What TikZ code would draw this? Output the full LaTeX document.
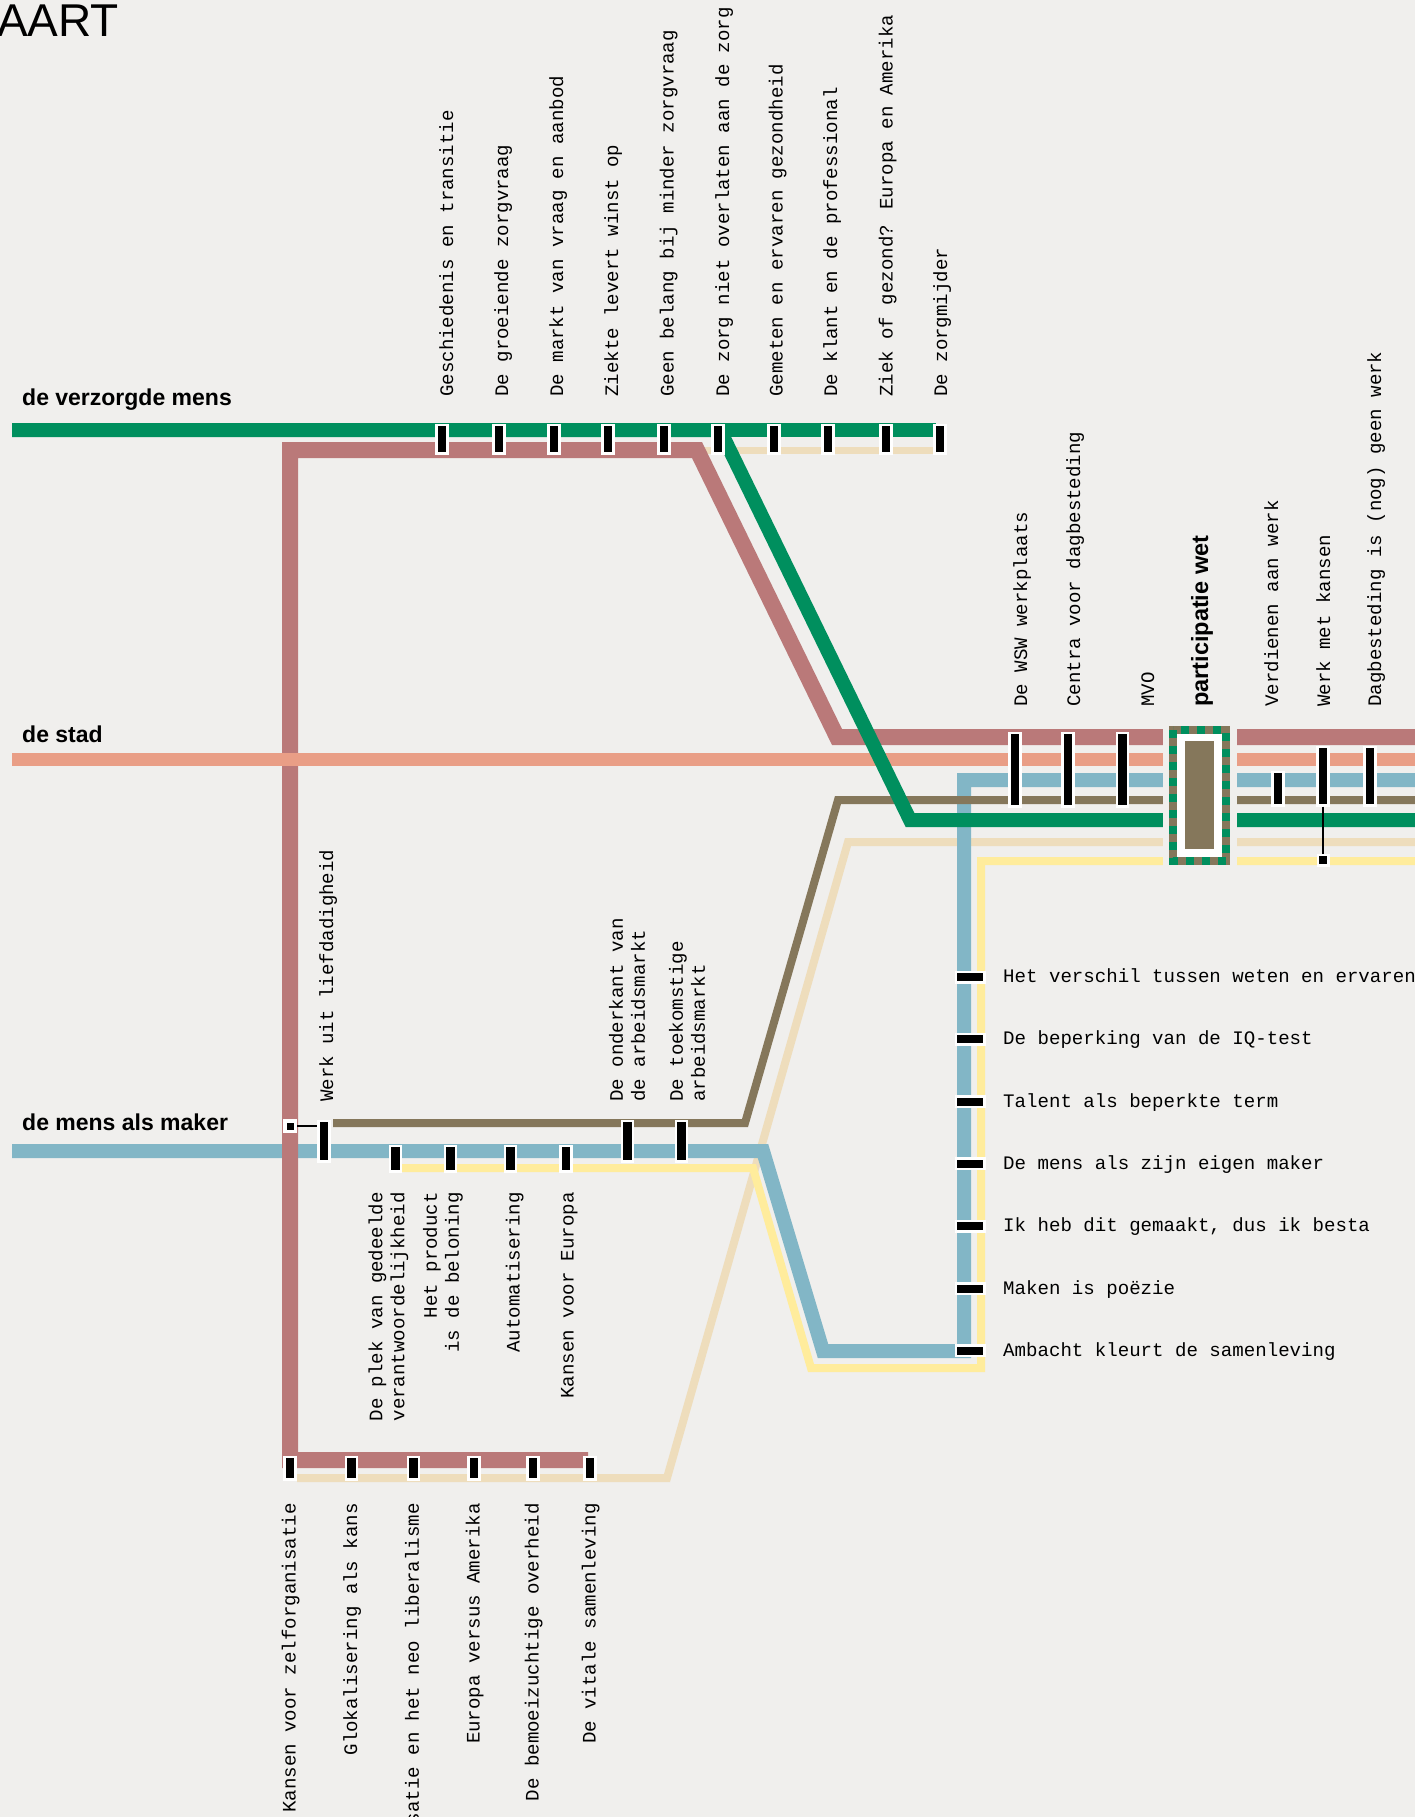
\documentclass[tikz,border=0pt]{standalone}
\usepackage{fontspec}
\setmainfont{Liberation Sans}
\newfontfamily\monof{Liberation Mono}
\definecolor{bgc}{RGB}{240,239,237}
\definecolor{lgreen}{RGB}{0,143,94}
\definecolor{lrose}{RGB}{186,121,121}
\definecolor{lsalmon}{RGB}{233,158,134}
\definecolor{lblue}{RGB}{130,182,198}
\definecolor{lbrown}{RGB}{133,119,91}
\definecolor{lbeige}{RGB}{238,221,188}
\definecolor{lyellow}{RGB}{255,236,156}
\begin{document}
\begin{tikzpicture}[x=1pt,y=-1pt]
\tikzset{
 metro/.style={line cap=butt, line join=miter},
 stn/.style={rectangle, fill=black, draw=white, line width=2.5pt, inner sep=0pt, minimum width=11pt},
 hstn/.style={rectangle, fill=black, draw=white, line width=2.5pt, inner sep=0pt, minimum width=28.5pt, minimum height=10.5pt},
 mlab/.style={font=\monof\fontsize{19.1}{22}\selectfont, inner sep=0pt},
 slab/.style={font=\fontsize{23}{27}\selectfont\bfseries, inner sep=0pt, anchor=base west},
}
\fill[bgc] (0,0) rectangle (1415,1817);
\useasboundingbox (0,0) rectangle (1415,1817);

% ---------- coordinates of the lines
\coordinate (gA) at (12,430);   \coordinate (gB) at (720,430);
\coordinate (gC) at (910,820);  \coordinate (gD) at (1415,820);
\coordinate (gE) at (936,430);
\coordinate (rA) at (588,1460); \coordinate (rB) at (290,1460);
\coordinate (rC) at (290,450);  \coordinate (rD) at (697,450);
\coordinate (rE) at (837,737);  \coordinate (rF) at (1415,737);
\coordinate (sA) at (12,759);   \coordinate (sB) at (1415,759);
\coordinate (bA) at (12,1151);  \coordinate (bB) at (763,1151);
\coordinate (bC) at (823,1351); \coordinate (bD) at (964,1351);
\coordinate (bE) at (964,780);  \coordinate (bF) at (1415,780);
\coordinate (yA) at (395,1168); \coordinate (yB) at (753,1168);
\coordinate (yC) at (811,1368); \coordinate (yD) at (981,1368);
\coordinate (yE) at (981,861);  \coordinate (yF) at (1415,861);
\coordinate (brA) at (333,1123); \coordinate (brB) at (745,1123);
\coordinate (brC) at (838,800);  \coordinate (brD) at (1415,800);
\coordinate (beA) at (297,1478); \coordinate (beB) at (667,1478);
\coordinate (beC) at (848,842);  \coordinate (beD) at (1415,842);
\coordinate (beE) at (700,450);  \coordinate (beF) at (936,450);

% ---------- lines
\draw[metro, lbeige, line width=8pt] (beA) -- (beB) -- (beC) -- (beD);
\draw[metro, lbeige, line width=7pt] (beE) -- (beF);
\draw[metro, lyellow, line width=8pt] (yA) -- (yB) -- (yC) -- (yD) -- (yE) -- (yF);
\draw[metro, lblue, line width=14pt] (bA) -- (bB) -- (bC) -- (bD) -- (bE) -- (bF);
\draw[metro, lrose, line width=16pt] (rA) -- (rB) -- (rC) -- (rD) -- (rE) -- (rF);
\draw[metro, lsalmon, line width=13pt] (sA) -- (sB);
\draw[metro, lbrown, line width=8pt] (brA) -- (brB) -- (brC) -- (brD);
\draw[metro, lgreen, line width=14pt] (gA) -- (gB) -- (gC) -- (gD);
\draw[metro, lgreen, line width=14pt] (gB) -- (gE);

% ---------- participatie wet box
\fill[bgc] (1163,719) rectangle (1237,872);
\fill[white] (1169,726) rectangle (1230,865);
\draw[lbrown, line width=8pt] (1173,730) rectangle (1226,861);
\draw[lgreen, line width=8pt, dash pattern=on 8pt off 8pt] (1173,730) rectangle (1226,861);
\node[rectangle, fill=lbrown, inner sep=0pt, minimum width=29pt, minimum height=108pt] (pwbox) at (1199.5,795) {};

% ---------- titles
\node[anchor=base west, inner sep=0pt, font=\fontsize{46}{50}\selectfont] (title) at (-3,37) {AART};
\node[slab] (lab1) at (22,405) {de verzorgde mens};
\node[slab] (lab2) at (22,742) {de stad};
\node[slab] (lab3) at (22,1130) {de mens als maker};

% ---------- stations on de verzorgde mens
\foreach \x/\lx/\t [count=\i] in {
 442/453/Geschiedenis en transitie,
 499/508/De groeiende zorgvraag,
 554/563/De markt van vraag en aanbod,
 608/618/Ziekte levert winst op,
 664/673.5/Geen belang bij minder zorgvraag,
 718/729/De zorg niet overlaten aan de zorg,
 774/782.5/Gemeten en ervaren gezondheid,
 828/837/De klant en de professional,
 886/892.5/{Ziek of gezond? Europa en Amerika},
 940/947/De zorgmijder} {
  \node[stn, minimum height=28.5pt] (gs\i) at (\x,439) {};
  \node[mlab, rotate=90, anchor=base west] (gt\i) at (\lx,397) {\t};
}

% ---------- stations on the right (de stad)
\foreach \x/\lx/\t [count=\i] in {
 1015/1027/De WSW werkplaats,
 1068/1080/Centra voor dagbesteding,
 1122.5/1154/MVO} {
  \node[stn, minimum height=73.5pt] (rs\i) at (\x,769.5) {};
  \node[mlab, rotate=90, anchor=base west] (rt\i) at (\lx,707) {\t};
}
\node[rotate=90, anchor=base west, inner sep=0pt, font=\fontsize{23.5}{27}\selectfont\bfseries] (pwlab) at (1208,707) {participatie wet};
\node[stn, minimum height=33.5pt] (vd) at (1278,788.5) {};
\node[mlab, rotate=90, anchor=base west] (vdt) at (1278,707) {Verdienen aan werk};
\node[stn, minimum height=58.5pt] (wk) at (1323,776) {};
\node[mlab, rotate=90, anchor=base west] (wkt) at (1330,707) {Werk met kansen};
\node[stn, minimum height=58.5pt] (dg) at (1370,776) {};
\node[mlab, rotate=90, anchor=base west] (dgt) at (1381,707) {Dagbesteding is (nog) geen werk};
\node[stn, minimum width=10.5pt, minimum height=10.5pt] (wksq) at (1323,860) {};
\draw[line width=1.5pt] (wk.south) -- (wksq.north);

% ---------- vertical stations (blue / yellow)
\foreach \y/\t [count=\i] in {
 977/Het verschil tussen weten en ervaren,
 1039.3/De beperking van de IQ-test,
 1101.6/Talent als beperkte term,
 1163.9/De mens als zijn eigen maker,
 1226.2/{Ik heb dit gemaakt, dus ik besta},
 1288.5/Maken is poëzie,
 1350.8/Ambacht kleurt de samenleving} {
  \node[hstn] (vs\i) at (970,\y) {};
  \node[mlab, anchor=base west] (vt\i) at (1003,\y+5.5) {\t};
}

% ---------- stations on de mens als maker
\node[rectangle, fill=black, draw=white, line width=3.5pt, inner sep=0pt, minimum size=10.5pt] (mk) at (290,1126) {};
\node[stn, minimum height=40.5pt] (wl) at (324,1141) {};
\draw[line width=2pt] (mk.east) -- (mk.east -| wl.west);
\node[mlab, rotate=90, anchor=base west] (wlt) at (333,1102) {Werk uit liefdadigheid};
\node[stn, minimum height=40.5pt] (ok) at (627.3,1141) {};
\node[mlab, rotate=90, anchor=west, align=left] (okt) at (627,1102) {De onderkant van\\de arbeidsmarkt};
\node[stn, minimum height=40.5pt] (tk) at (681.7,1141) {};
\node[mlab, rotate=90, anchor=west, align=left] (tkt) at (687,1102) {De toekomstige\\arbeidsmarkt};

\node[stn, minimum height=25.5pt] (u1) at (395.7,1158.5) {};
\node[stn, minimum height=25.5pt] (u2) at (450.7,1158.5) {};
\node[stn, minimum height=25.5pt] (u3) at (510.7,1158.5) {};
\node[stn, minimum height=25.5pt] (u4) at (566,1158.5) {};
\node[mlab, rotate=90, anchor=east, align=right] (u1t) at (388.5,1192) {De plek van gedeelde\\verantwoordelijkheid};
\node[mlab, rotate=90, anchor=east, align=right] (u2t) at (443,1192) {Het product\\is de beloning};
\node[mlab, rotate=90, anchor=base east] (u3t) at (519.5,1192) {Automatisering};
\node[mlab, rotate=90, anchor=base east] (u4t) at (573.5,1192) {Kansen voor Europa};

% ---------- bottom stations (rose)
\foreach \x/\t [count=\i] in {
 290/Kansen voor zelforganisatie,
 351.7/Glokalisering als kans,
 413.3/satie en het neo liberalisme,
 474/Europa versus Amerika,
 533/De bemoeizuchtige overheid,
 590/De vitale samenleving} {
  \node[stn, minimum height=22.5pt] (bs\i) at (\x,1468) {};
  \node[mlab, rotate=90, anchor=base east] (bt\i) at (\x+5.5,1503) {\t};
}
\end{tikzpicture}
\end{document}
